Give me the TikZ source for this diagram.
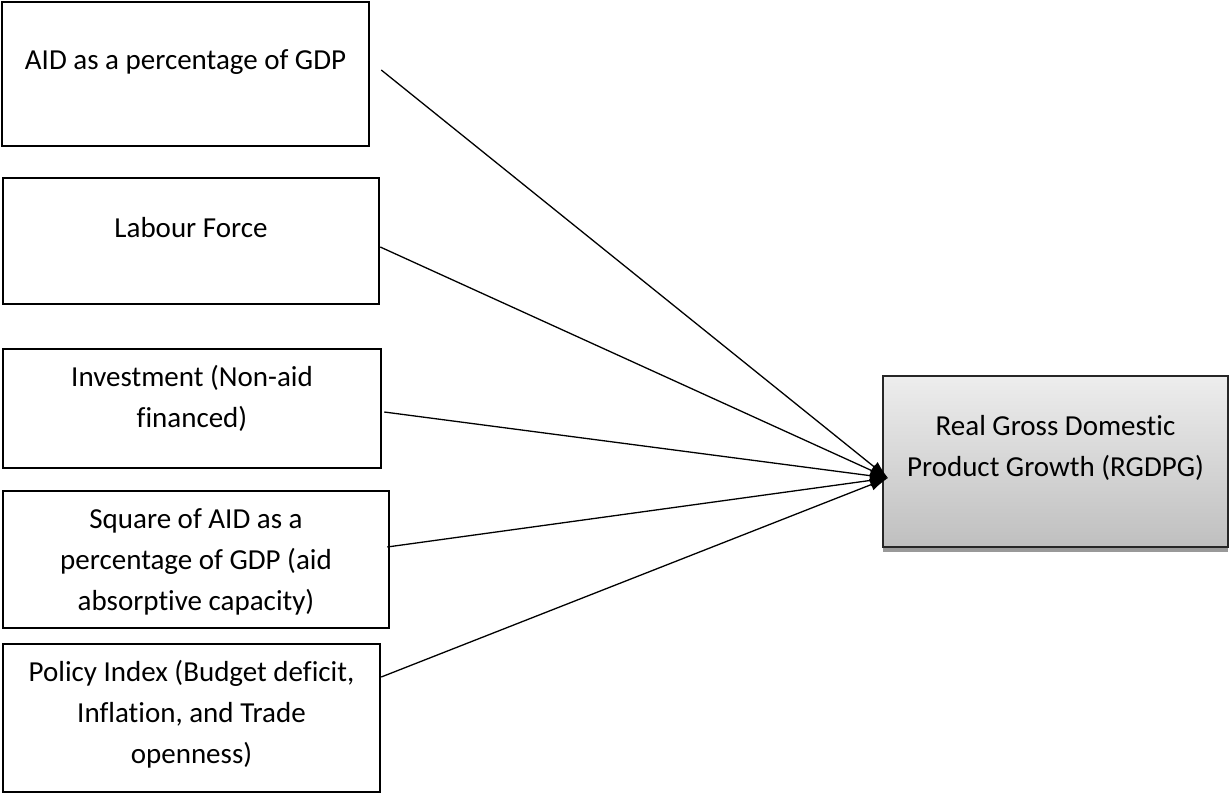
\documentclass[tikz,border=0pt]{standalone}
\usepackage{fontspec}
\setmainfont{Carlito}[Ligatures=NoCommon]
\usetikzlibrary{arrows.meta,shadows}

\tikzset{
  BoxStyle/.style={draw=black, line width=2.5pt, fill=white, inner sep=0pt},
  TextStyle/.style={align=center, font=\fontsize{29}{41}\selectfont, inner sep=0pt},
  GoalStyle/.style={draw=black!85, line width=2pt, top color=black!7, bottom color=black!25,
    drop shadow={shadow xshift=0pt, shadow yshift=-5pt, fill=black!40, opacity=1}},
  EdgeStyle/.style={line width=1.3pt, -{Latex[length=18pt,width=12pt]}}
}

\begin{document}
\begin{tikzpicture}[x=1pt,y=-1pt]
  \useasboundingbox (0,0) rectangle (1230,794);
  % explanatory variables
  \node[BoxStyle, minimum width=367pt, minimum height=144pt] (aid) at (185.5,74) {};
  \node[TextStyle] (aidtext) at ([yshift=12pt]aid.center) {AID as a percentage of GDP};
  \node[BoxStyle, minimum width=376pt, minimum height=126pt] (labour) at (191,241) {};
  \node[TextStyle] (labourtext) at ([yshift=13pt]labour.center) {Labour Force};
  \node[BoxStyle, minimum width=378pt, minimum height=119pt] (invest) at (192,408.5) {};
  \node[TextStyle] (investtext) at ([yshift=10.5pt]invest.center) {Investment (Non-aid\\financed)};
  \node[BoxStyle, minimum width=386pt, minimum height=137pt] (square) at (196,559.5) {};
  \node[TextStyle] (squaretext) at ([yshift=-2pt]square.center) {Square of AID as a\\percentage of GDP (aid\\absorptive capacity)};
  \node[BoxStyle, minimum width=377pt, minimum height=148pt] (policy) at (191.5,718) {};
  \node[TextStyle] (policytext) at ([yshift=4pt]policy.center) {Policy Index (Budget deficit,\\Inflation, and Trade\\openness)};
  % dependent variable
  \node[GoalStyle, minimum width=345pt, minimum height=171pt] (rgdpg) at (1055.5,461.5) {};
  \node[TextStyle] (rgdpgtext) at ([yshift=14pt]rgdpg.center) {Real Gross Domestic\\Product Growth (RGDPG)};
  \coordinate (tip) at (888,478);
  \draw[EdgeStyle] ([xshift=11pt,yshift=4pt]aid.east) -- (tip);
  \draw[EdgeStyle] ([yshift=-6pt]labour.east) -- (tip);
  \draw[EdgeStyle] ([xshift=2pt,yshift=-3.5pt]invest.east) -- (tip);
  \draw[EdgeStyle] ([xshift=-3pt,yshift=12.5pt]square.east) -- (tip);
  \draw[EdgeStyle] ([yshift=41pt]policy.east) -- (tip);
\end{tikzpicture}
\end{document}
